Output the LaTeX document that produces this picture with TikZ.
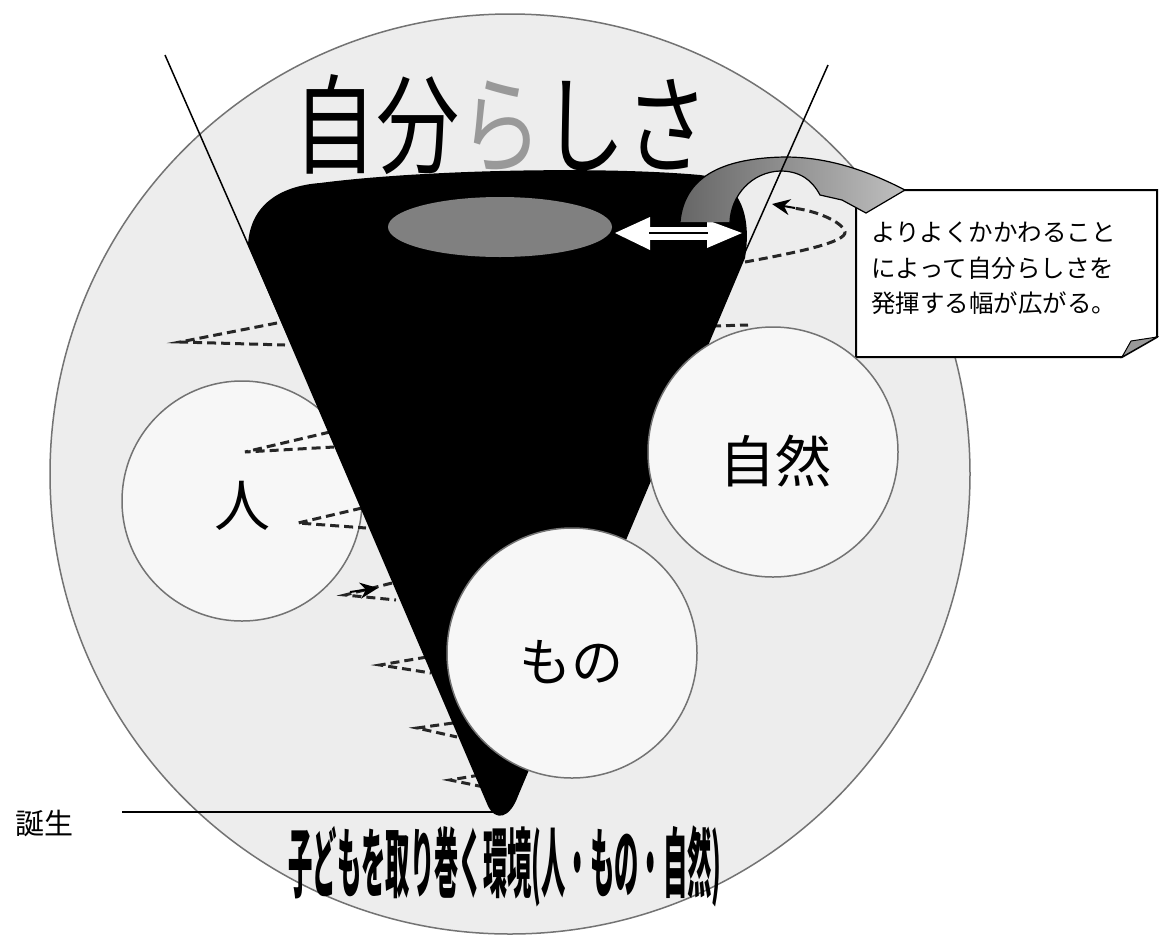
\documentclass[tikz,border=0pt]{standalone}
\usepackage{fontspec}
\usepackage{graphicx}
\usetikzlibrary{arrows.meta,shapes.geometric}
\newfontfamily\jp{Noto Sans CJK JP}
\begin{document}
\begin{tikzpicture}[x=1pt,y=-1pt,
  ring/.style={draw=black!55, line width=1.5pt, fill=black!3, circle, inner sep=0pt},
  spiral/.style={draw=black!85, line width=3pt, dash pattern=on 9pt off 5pt},
  thinline/.style={draw=black, line width=1.5pt},
  jtext/.style={font=\jp\fontsize{#1}{#1}\selectfont, inner sep=0pt}]
\useasboundingbox (0,0) rectangle (1159,938);
\fill[white] (0,0) rectangle (1159,938);

% environment circle
\node[ring, fill=black!7, minimum size=920pt] (env) at (510,474) {};
% person circle (behind the cone)
\node[ring, minimum size=240pt] (hito) at (242,501) {};

% spiral marks on the left side
\draw[spiral] (277,323) -- (180,342) -- (285,345);
\draw[spiral] (330,432) -- (245,452) -- (334,447);
\draw[spiral] (362,508) -- (298,523) -- (366,528);
\draw[spiral] (392,583) -- (345,595) -- (396,600);
\draw[spiral] (427,657) -- (380,665) -- (431,673);
\draw[spiral] (453,723) -- (417,728) -- (457,737);
\draw[spiral] (480,775) -- (450,780) -- (484,787);
\draw[spiral] (712,326) -- (748,325);
\coordinate (sptip) at (350,592);
\coordinate (sphead) at (378,588);
\draw[black, line width=2pt, -{Stealth[length=18pt,width=16pt]}] (sptip) -- (sphead);

% cone
\coordinate (apex) at (497,812);
\fill[black] (248,245) .. controls (250,205) and (280,186) .. (320,183)
  .. controls (420,170) and (600,166) .. (700,175)
  .. controls (740,180) and (752,215) .. (745,258)
  -- (518,796) .. controls (510,818) and (496,822) .. (488,806) -- cycle;

% core ellipse
\node[ellipse, fill=black!50, minimum width=224pt, minimum height=60pt, inner sep=0pt] (core) at (500,227) {};

% white double arrow
\coordinate (dl) at (615,233);
\coordinate (dr) at (742,233);
\fill[white] (dl) -- (650,217) -- (650,250) -- cycle;
\fill[white] (dr) -- (707,220) -- (707,248) -- cycle;
\fill[white] (648,227) rectangle (709,240);
\draw[black, line width=2pt] (649,233) -- (708,233);

% note box
\draw[fill=white, line width=2pt] (856,190) -- (1157,190) -- (1157,337) -- (1122,357) -- (856,357) -- cycle;
\draw[fill=black!40, line width=1pt] (1122,357) -- (1131,341) -- (1157,337) -- cycle;
\node[anchor=north west, align=left, inner sep=0pt, font=\jp\fontsize{24.5}{35.5}\selectfont] (note) at (871,222)
  {よりよくかかわること\\によって自分らしさを\\発揮する幅が広がる。};

% curved block arrow
\fill[left color=black!60, right color=black!25]
  (680,222) .. controls (684,178) and (720,158) .. (785,157)
  .. controls (830,157) and (870,172) .. (905,190)
  -- (866,213) -- (842,200) -- (820,195)
  .. controls (812,180) and (800,171) .. (780,171)
  .. controls (752,172) and (731,195) .. (730,222) -- cycle;
\draw[black, line width=1.2pt]
  (680,222) .. controls (684,178) and (720,158) .. (785,157)
  .. controls (830,157) and (870,172) .. (905,190)
  -- (866,213) -- (842,200) -- (820,195)
  .. controls (812,180) and (800,171) .. (780,171)
  .. controls (752,172) and (731,195) .. (730,222);

% right spiral loop
\coordinate (loopA) at (745,262);
\coordinate (loopB) at (772,204);
\draw[spiral] (loopA) .. controls (800,252) and (846,242) .. (845,232)
  .. controls (843,222) and (815,210) .. (792,208);
\draw[black, line width=2pt, -{Stealth[length=18pt,width=16pt]}] (795,208) -- (loopB);

% guide lines
\draw[thinline] (165,55) -- (apex);
\draw[thinline] (828,65) -- (apex);

% thing and nature circles (over the cone)
\node[ring, minimum size=250pt] (mono) at (572,653) {};
\node[ring, minimum size=250pt] (shizen) at (773,452) {};

% labels
\node[jtext=56] (hitoL) at (242,506) {人};
\node[jtext=52] (monoL) at (571,662) {もの};
\node[jtext=56] (shizenL) at (775,461) {自然};

% title text
\node[anchor=west, inner sep=0pt, font=\jp\fontsize{108}{108}\selectfont] (jibun) at (293,125)
  {\scalebox{0.77}[1]{自分\textcolor{black!40}{ら}しさ}};

% bottom text
\node[inner sep=0pt, font=\jp\bfseries\fontsize{76}{76}\selectfont] (envL) at (505,866)
  {\scalebox{0.32}[1]{子どもを取り巻く環境(人・もの・自然)}};

% birth
\node[jtext=29] (tanjo) at (45,823) {誕生};
\coordinate (birthL) at (122,812);
\draw[thinline] (birthL) -- (apex);
\end{tikzpicture}
\end{document}
